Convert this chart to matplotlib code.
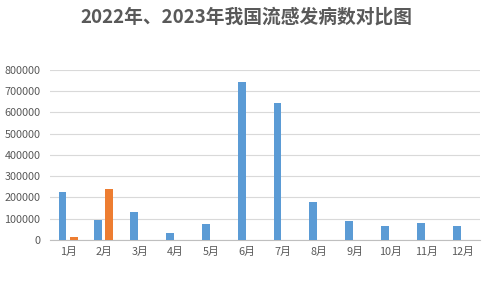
import numpy as np
import matplotlib
matplotlib.use('Agg')
import matplotlib.pyplot as plt

plt.rcParams['font.family'] = ['Noto Sans CJK SC', 'DejaVu Sans']

# -- data
months = ['1月', '2月', '3月', '4月', '5月', '6月', '7月', '8月', '9月', '10月', '11月', '12月']
cases_2022 = [226000, 95500, 133000, 34000, 77000, 743500, 645000, 179000, 91000, 67000, 81000, 67000]
cases_2023 = [15500, 241000]
title = '2022年、2023年我国流感发病数对比图'

blue = '#5B9BD5'
orange = '#ED7D31'
text_gray = '#595959'

fig = plt.figure(figsize=(4.96, 2.89), dpi=100)
ax = fig.add_axes([0.101, 0.1696, 0.867, 0.5882])

x = np.arange(len(months))
w = 0.22
off = 0.155
ax.bar(x - off, cases_2022, width=w, color=blue, zorder=3)
ax.bar(x[:len(cases_2023)] + off, cases_2023, width=w, color=orange, zorder=3)

ax.set_xlim(-0.5, len(months) - 0.5)
ax.set_ylim(0, 800000)
ax.set_yticks(np.arange(0, 800001, 100000))
ax.set_yticklabels([str(v) for v in range(0, 800001, 100000)])
ax.set_xticks(x)
ax.set_xticklabels(months)

ax.grid(axis='y', color='#d9d9d9', linewidth=0.8, zorder=0)
for s in ['top', 'right', 'left']:
    ax.spines[s].set_visible(False)
ax.spines['bottom'].set_color('#bfbfbf')
ax.tick_params(axis='both', length=0, labelsize=7.8, colors=text_gray)
ax.tick_params(axis='x', pad=5)
ax.tick_params(axis='y', pad=7)

fig.text(0.496, 0.94, title, ha='center', va='center', fontsize=13.5,
         fontweight='bold', color=text_gray)

fig.savefig('out.png', dpi=100)
